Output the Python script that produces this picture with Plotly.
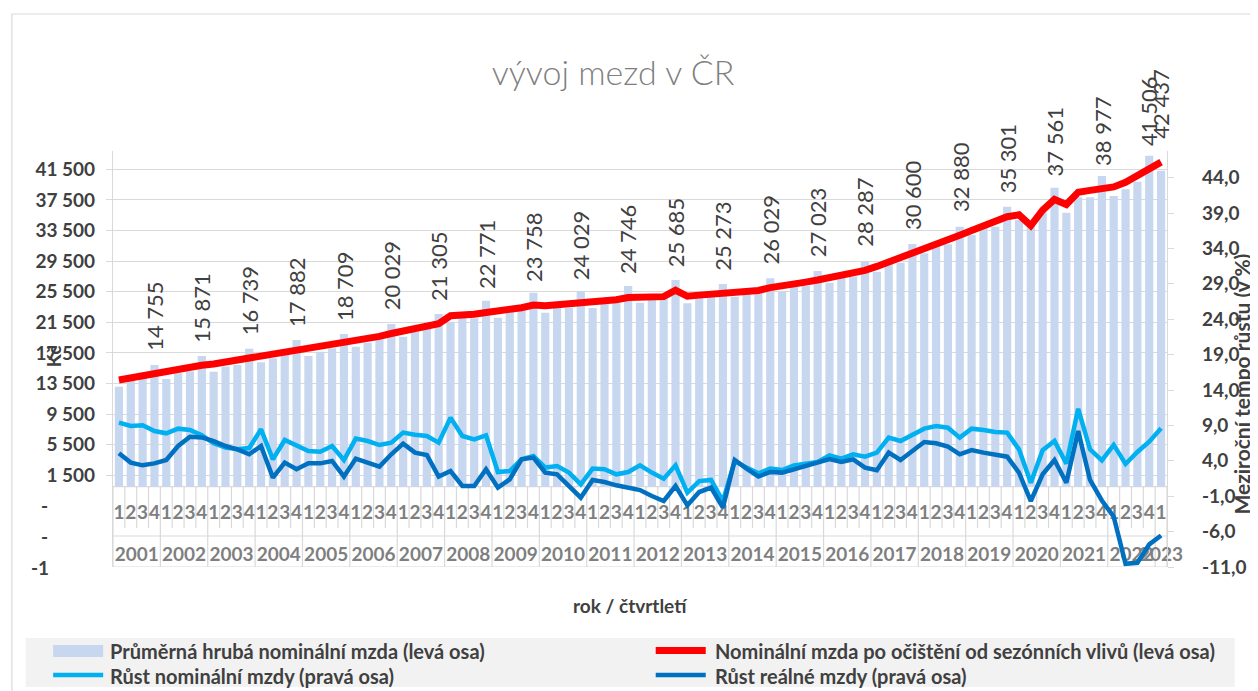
import plotly.graph_objects as go

# ---------------- DATA ----------------
years = list(range(2001, 2024))
quarters_per_year = [4] * 22 + [1]

# Průměrná hrubá nominální mzda (Kč) - bars, left axis
avg_wage = [
    13075, 13950, 14250, 15912,
    14082, 14830, 15100, 17089,
    15036, 15700, 15900, 18044,
    16260, 16790, 17220, 19180,
    17090, 17650, 18090, 19970,
    18310, 18830, 19270, 21270,
    19610, 20270, 20710, 22580,
    21580, 22230, 22020, 24320,
    22100, 23050, 23050, 25370,
    22750, 23500, 23400, 25590,
    23370, 24000, 24100, 26240,
    24060, 24700, 24650, 27030,
    23980, 24900, 24800, 26500,
    24840, 25400, 25350, 27250,
    25500, 26300, 26250, 28200,
    26670, 27600, 27500, 29420,
    28110, 29200, 29290, 31730,
    30520, 31500, 31700, 34000,
    32910, 33900, 34000, 36610,
    34870, 34220, 35960, 39100,
    35830, 37840, 37840, 40630,
    38010, 38880, 39880, 43280,
    41320,
]

# Nominální mzda po očištění od sezónních vlivů (Kč) - red line, left axis
sa_wage = [
    13950, 14250, 14500, 14755,
    15050, 15330, 15600, 15871,
    16050, 16300, 16500, 16739,
    17000, 17250, 17600, 17882,
    17950, 18200, 18450, 18709,
    19000, 19300, 19650, 20029,
    20400, 20750, 21000, 21305,
    22350, 22400, 22550, 22771,
    22950, 23150, 23400, 23758,
    23650, 23800, 23900, 24029,
    24150, 24300, 24450, 24746,
    24800, 24850, 24850, 25685,
    24900, 25050, 25150, 25273,
    25350, 25450, 25650, 26029,
    26200, 26450, 26750, 27023,
    27350, 27550, 27900, 28287,
    28800, 29350, 29950, 30600,
    31150, 31700, 32300, 32880,
    33500, 34150, 34750, 35301,
    35550, 34150, 36150, 37561,
    36900, 38500, 38750, 38977,
    39200, 39800, 40650, 41506,
    42437,
]

# Růst nominální mzdy (%) - right axis
nominal_growth = [
    9.39, 8.92, 9.01, 8.21,
    7.88, 8.54, 8.35, 7.60,
    6.47, 5.86, 5.62, 5.80,
    8.45, 4.21, 6.94, 6.09,
    5.38, 5.29, 6.09, 4.11,
    7.13, 6.79, 6.23, 6.57,
    7.98, 7.69, 7.50, 6.57,
    10.10, 7.50, 7.03, 7.60,
    2.42, 2.56, 4.21, 4.68,
    3.04, 3.27, 2.33, 0.68,
    2.90, 2.80, 2.09, 2.42,
    3.36, 2.33, 1.48, 3.36,
    -0.49, 1.14, 1.29, -1.68,
    3.97, 3.04, 2.23, 2.90,
    2.70, 3.36, 3.64, 3.83,
    4.77, 4.30, 4.92, 4.58,
    5.15, 7.27, 6.80, 7.74,
    8.54, 8.92, 8.68, 7.27,
    8.54, 8.35, 8.07, 7.98,
    5.62, 0.91, 5.50, 6.80,
    3.60, 11.35, 5.62, 4.05,
    6.25, 3.55, 5.25, 6.70,
    8.60,
]

# Růst reálné mzdy (%) - right axis
real_growth = [
    5.06, 3.74, 3.36, 3.64,
    4.11, 6.09, 7.40, 7.30,
    6.79, 6.09, 5.62, 4.92,
    6.09, 1.62, 3.74, 2.80,
    3.64, 3.64, 3.97, 1.77,
    4.31, 3.74, 3.18, 4.92,
    6.42, 5.15, 4.82, 1.77,
    2.56, 0.44, 0.44, 2.80,
    0.21, 1.38, 4.21, 4.45,
    2.33, 2.09, 0.44, -1.20,
    1.29, 1.00, 0.54, 0.21,
    -0.13, -0.97, -1.68, 0.44,
    -2.29, -0.41, 0.21, -2.61,
    4.11, 2.90, 1.77, 2.42,
    2.33, 2.80, 3.27, 3.83,
    4.25, 3.83, 4.21, 3.04,
    2.66, 5.15, 4.11, 5.38,
    6.65, 6.47, 6.00, 4.92,
    5.52, 5.15, 4.92, 4.58,
    2.33, -1.68, 2.09, 4.11,
    0.91, 8.21, 1.30, -1.60,
    -3.90, -10.55, -10.40, -7.80,
    -6.55,
]

left_ticks = list(range(1500, 41501, 4000))
left_neg_ticks = [-2500, -6500, -10500]
left_neg_text = ["-", "-", "-1"]
right_ticks = list(range(-11, 45, 5))

series_names = [
    "Průměrná hrubá nominální mzda (levá osa)",
    "Nominální mzda po očištění od sezónních vlivů (levá osa)",
    "Růst nominální mzdy (pravá osa)",
    "Růst reálné mzdy (pravá osa)",
]

# ---------------- CATEGORIES ----------------
cat_year, cat_q = [], []
for yr, n in zip(years, quarters_per_year):
    for q in range(1, n + 1):
        cat_year.append(yr)
        cat_q.append(q)
N = len(cat_q)
xs = list(range(N))

# ---------------- GEOMETRY ----------------
# the page body has an 8px margin, so the figure is drawn 8px smaller and
# every reference pixel position is shifted by OFF
OFF = 8
W, H = 1258 - OFF, 691 - OFF
PL, PR, PT, PB = 113, 1187, 151, 567          # plot area in window pixels
LEFT_PX_PER_UNIT = 0.007648
RIGHT_PX_PER_UNIT = 7.08
left_range = [-10500, -10500 + (PB - PT) / LEFT_PX_PER_UNIT]
right_range = [-11, -11 + (PB - PT) / RIGHT_PX_PER_UNIT]


def px_x(p):
    return (p - PL) / (PR - PL)


def px_y(p):
    return (PB - p) / (PB - PT)


def left_val(p):
    return left_range[0] + (PB - p) / LEFT_PX_PER_UNIT


FONT = "Lato"
DARK = "#404040"
GREY = "#7f7f7f"
LINEC = "#d9d9d9"
BAR_C = "#c6d7ef"
RED_C = "#ff0000"
LB_C = "#00b0f0"
DB_C = "#0070c0"

fig = go.Figure()

fig.add_trace(go.Bar(
    x=xs, y=avg_wage, name=series_names[0], marker=dict(color=BAR_C, line=dict(width=0)),
    hoverinfo="skip", showlegend=False,
))

# category labels (quarter row and year row) inside the plot below zero
fig.add_trace(go.Scatter(
    x=xs, y=[left_val(514)] * N, mode="text", text=[str(q) for q in cat_q],
    textfont=dict(family=FONT, size=19, color=GREY, weight="bold"),
    hoverinfo="skip", showlegend=False, cliponaxis=False,
))
year_centers, year_text = [], []
for yr in years:
    idx = [i for i in xs if cat_year[i] == yr]
    year_centers.append(sum(idx) / len(idx))
    year_text.append(str(yr))
fig.add_trace(go.Scatter(
    x=year_centers, y=[left_val(556)] * len(years), mode="text", text=year_text,
    textfont=dict(family=FONT, size=19, color=GREY, weight="bold"),
    hoverinfo="skip", showlegend=False, cliponaxis=False,
))

fig.add_trace(go.Scatter(
    x=xs, y=sa_wage, name=series_names[1], mode="lines",
    line=dict(color=RED_C, width=7), showlegend=False, cliponaxis=False,
))
fig.add_trace(go.Scatter(
    x=xs, y=nominal_growth, name=series_names[2], mode="lines", yaxis="y2",
    line=dict(color=LB_C, width=4.5), showlegend=False,
))
fig.add_trace(go.Scatter(
    x=xs, y=real_growth, name=series_names[3], mode="lines", yaxis="y2",
    line=dict(color=DB_C, width=4.5), showlegend=False, cliponaxis=False,
))

shapes = []
# category table lines
for k in range(N + 1):
    is_year = (k == N) or (k == 0) or (cat_q[k] == 1)
    y1 = left_range[0] if is_year else left_val(528)
    shapes.append(dict(type="line", xref="x", yref="y", x0=k - 0.5, x1=k - 0.5,
                       y0=0, y1=y1, line=dict(color=LINEC, width=1.2), layer="below"))
for yv in [0, left_val(536), left_range[0]]:
    shapes.append(dict(type="line", xref="x", yref="y", x0=-0.5, x1=N - 0.5,
                       y0=yv, y1=yv, line=dict(color=LINEC, width=1.2), layer="below"))

# chart border
shapes.append(dict(type="rect", xref="paper", yref="paper", x0=px_x(10), x1=px_x(1300),
                   y0=px_y(14), y1=px_y(720), line=dict(color=LINEC, width=1.2), layer="below"))

# legend (manual)
shapes.append(dict(type="rect", xref="paper", yref="paper", x0=px_x(24), x1=px_x(1256),
                   y0=px_y(638), y1=px_y(687), fillcolor="#f2f2f2", line=dict(width=0)))
shapes.append(dict(type="rect", xref="paper", yref="paper", x0=px_x(52), x1=px_x(103),
                   y0=px_y(645), y1=px_y(657), fillcolor=BAR_C, line=dict(width=0)))
shapes.append(dict(type="line", xref="paper", yref="paper", x0=px_x(666), x1=px_x(717),
                   y0=px_y(650.5), y1=px_y(650.5), line=dict(color=RED_C, width=7)))
shapes.append(dict(type="line", xref="paper", yref="paper", x0=px_x(52), x1=px_x(103),
                   y0=px_y(675), y1=px_y(675), line=dict(color=LB_C, width=4.5)))
shapes.append(dict(type="line", xref="paper", yref="paper", x0=px_x(666), x1=px_x(717),
                   y0=px_y(675), y1=px_y(675), line=dict(color=DB_C, width=4.5)))

annotations = []
legend_pos = [(108, 650.5), (724, 650.5), (108, 675.5), (724, 675.5)]
for name, (lx, ly) in zip(series_names, legend_pos):
    annotations.append(dict(xref="paper", yref="paper", x=px_x(lx), y=px_y(ly), text=name,
                            showarrow=False, xanchor="left", yanchor="middle",
                            font=dict(family=FONT, size=20, color=DARK, weight="bold")))

# data labels on the seasonally adjusted series (Q4 of each year + last point)
for i in xs:
    if cat_q[i] == 4 or i == N - 1:
        annotations.append(dict(
            xref="x", yref="y", x=i, y=sa_wage[i], text=f"{sa_wage[i]:,}".replace(",", " "),
            showarrow=False, textangle=-90, xanchor="center", yanchor="bottom", yshift=21,
            font=dict(family=FONT, size=22, color=DARK)))

# clipped negative left-axis labels
for yv, t, lx in zip(left_neg_ticks, left_neg_text, [38, 38, 27]):
    annotations.append(dict(xref="paper", yref="y", x=px_x(lx), y=yv, text=t, showarrow=False,
                            xanchor="left", yanchor="middle",
                            font=dict(family=FONT, size=19, color=DARK, weight="bold")))

# axis titles
annotations.append(dict(xref="paper", yref="paper", x=px_x(52), y=px_y(357), text="Kč",
                        showarrow=False, textangle=-90, xanchor="center", yanchor="middle",
                        font=dict(family=FONT, size=19, color=DARK, weight="bold")))
annotations.append(dict(xref="paper", yref="paper", x=px_x(1262), y=px_y(384),
                        text="Meziroční tempo růstu (v %)", showarrow=False, textangle=-90,
                        xanchor="center", yanchor="middle",
                        font=dict(family=FONT, size=21, color=DARK, weight="bold")))
annotations.append(dict(xref="paper", yref="paper", x=px_x(640), y=px_y(605),
                        text="rok / čtvrtletí", showarrow=False, xanchor="center", yanchor="middle",
                        font=dict(family=FONT, size=19, color=DARK, weight="bold")))

fig.update_layout(
    width=W, height=H,
    margin=dict(l=PL - OFF, r=W - (PR - OFF), t=PT - OFF, b=H - (PB - OFF), pad=0),
    paper_bgcolor="white", plot_bgcolor="white",
    bargap=0.31,
    showlegend=False,
    title=dict(text="vývoj mezd v ČR", x=(613 - OFF) / W, xref="container", xanchor="center",
               y=1 - (73 - OFF) / H, yref="container", yanchor="middle",
               font=dict(family=FONT, size=34, color=GREY, weight=300)),
    xaxis=dict(range=[-0.5, N - 0.5], showticklabels=False, showgrid=False, zeroline=False,
               showline=False, ticks=""),
    yaxis=dict(range=left_range, tickvals=left_ticks,
               ticktext=[f"{v:,}".replace(",", " ") for v in left_ticks],
               showgrid=True, gridcolor=LINEC, gridwidth=1.3, zeroline=False,
               showline=True, linecolor=LINEC, linewidth=1.2,
               ticks="outside", ticklen=6, tickcolor=LINEC, ticklabelstandoff=7,
               tickfont=dict(family=FONT, size=19, color=DARK, weight="bold")),
    yaxis2=dict(range=right_range, overlaying="y", side="right", tickvals=right_ticks,
                ticktext=[f"{v:.1f}".replace(".", ",") for v in right_ticks],
                showgrid=False, zeroline=False, showline=True, linecolor=LINEC, linewidth=1.2,
                ticks="outside", ticklen=6, tickcolor=LINEC, ticklabelstandoff=24,
                tickfont=dict(family=FONT, size=19, color=DARK, weight="bold")),
    shapes=shapes,
    annotations=annotations,
)

fig.write_html("out.html", config={"displayModeBar": False})
